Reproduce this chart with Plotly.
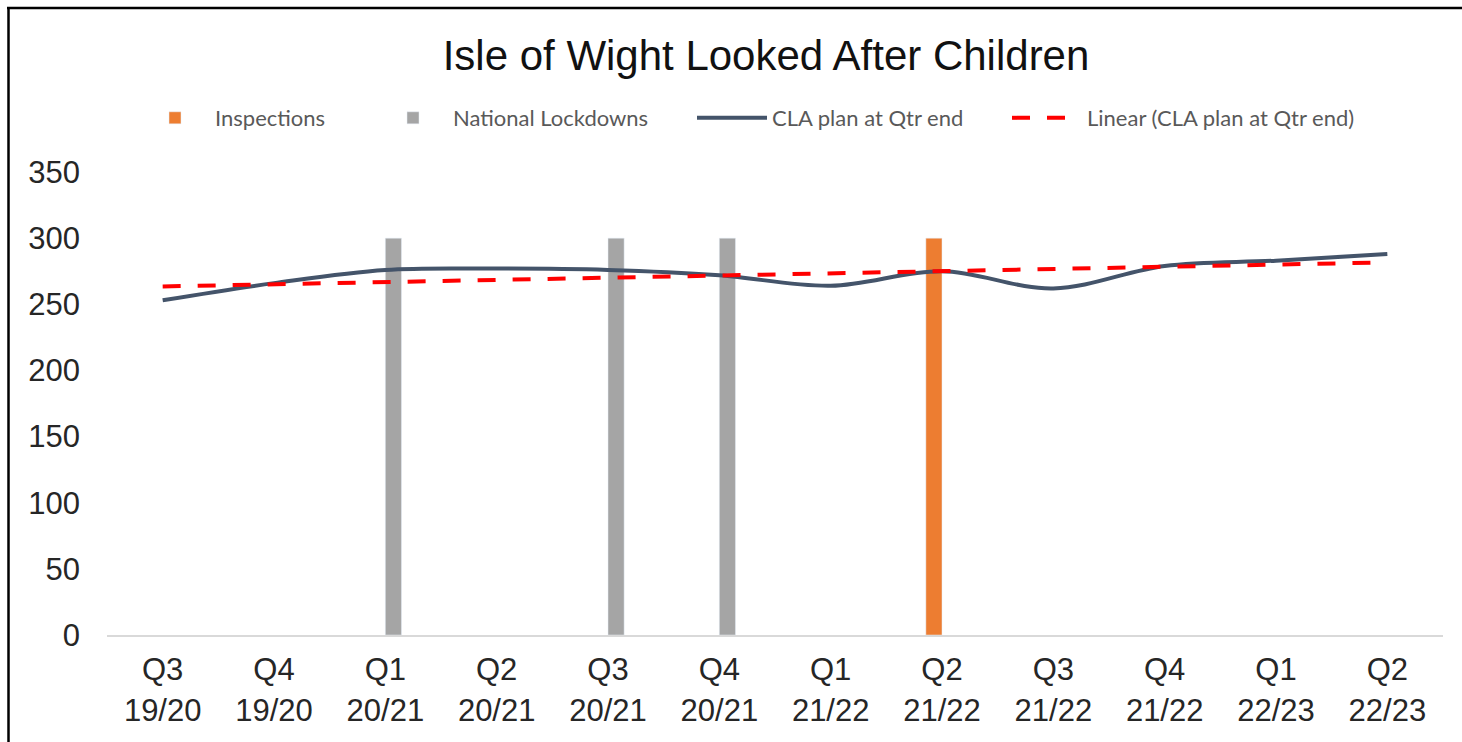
import numpy as np
import plotly.graph_objects as go

quarters = ["Q3<br>19/20", "Q4<br>19/20", "Q1<br>20/21", "Q2<br>20/21", "Q3<br>20/21", "Q4<br>20/21",
            "Q1<br>21/22", "Q2<br>21/22", "Q3<br>21/22", "Q4<br>21/22", "Q1<br>22/23", "Q2<br>22/23"]
cla_plan = [253, 266, 276, 277, 276, 272, 264, 275, 262, 279, 283, 288]
inspections = [None, None, None, None, None, None, None, 300, None, None, None, None]
lockdowns = [None, None, 300, None, 300, 300, None, None, None, None, None, None]

# Linear trendline (least squares fit of the CLA series, as the spreadsheet trendline)
xi = np.arange(len(cla_plan))
slope, intercept = np.polyfit(xi, cla_plan, 1)
trend = list(slope * xi + intercept)

W, H = 1462, 742
L, R, T, B = 107, 19, 172, 107
pw, ph = W - L - R, H - T - B

def px_x(p):
    return (p - L) / pw

def px_y(p):
    return (H - B - p) / ph

fig = go.Figure()
fig.add_trace(go.Bar(x=quarters, y=inspections, name="Inspections", marker_color="#ED7D31",
                     legend="legend"))
fig.add_trace(go.Bar(x=quarters, y=lockdowns, name="National Lockdowns", marker_color="#A5A5A5",
                     legend="legend2"))
fig.add_trace(go.Scatter(x=quarters, y=cla_plan, name="CLA plan at Qtr end", mode="lines",
                         line=dict(color="#44546A", width=4, shape="spline"), legend="legend3"))
fig.add_trace(go.Scatter(x=quarters, y=trend, name="Linear (CLA plan at Qtr end)", mode="lines",
                         line=dict(color="#FF0000", width=4, dash="18px,17px"), legend="legend4"))

legend_font = dict(family="Lato, sans-serif", size=22, color="#595959")
text_starts = [215, 453, 772, 1087]

def make_legend(text_x):
    return dict(orientation="h", x=px_x(text_x - 80), xanchor="left", y=px_y(118), yanchor="middle",
                font=legend_font, itemwidth=70, bgcolor="rgba(0,0,0,0)")

fig.update_layout(
    width=W, height=H,
    margin=dict(l=L, r=R, t=T, b=B, autoexpand=False),
    paper_bgcolor="white", plot_bgcolor="white",
    barmode="group", bargap=0.71, bargroupgap=0,
    font=dict(family="Liberation Sans, Arial, sans-serif", color="#262626"),
    title=dict(text="Isle of Wight Looked After Children", x=766 / W, xanchor="center",
               y=1 - 55 / H, yanchor="middle", font=dict(size=42, color="#111111")),
    legend=make_legend(text_starts[0]),
    legend2=make_legend(text_starts[1]),
    legend3=make_legend(text_starts[2]),
    legend4=make_legend(text_starts[3]),
    showlegend=True,
    modebar=dict(bgcolor="rgba(0,0,0,0)", color="rgba(0,0,0,0)", activecolor="rgba(0,0,0,0)"),
    xaxis=dict(showline=True, linecolor="#D9D9D9", linewidth=2, showgrid=False, ticks="",
               tickfont=dict(size=31), zeroline=False, ticklabelstandoff=6),
    yaxis=dict(range=[0, 350], dtick=50, showgrid=False, showline=False, zeroline=False,
               tickfont=dict(size=31), ticks="", ticklabelstandoff=26),
    shapes=[
        dict(type="line", xref="paper", yref="paper", x0=px_x(7), x1=px_x(1462), y0=px_y(8),
             y1=px_y(8), line=dict(color="black", width=2.5)),
        dict(type="line", xref="paper", yref="paper", x0=px_x(8.5), x1=px_x(8.5), y0=px_y(7),
             y1=px_y(742), line=dict(color="black", width=2.5)),
    ],
)

fig.write_html("out.html", config={"displaylogo": False},
               post_script="document.body.style.margin='0';document.body.style.overflow='hidden';")
